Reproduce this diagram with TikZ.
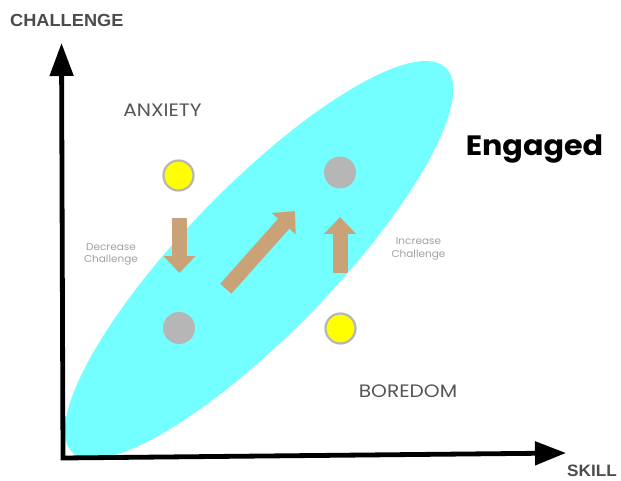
\documentclass[tikz,border=0pt]{standalone}
\usepackage{fontspec}
\newfontfamily\pop{Poppins}[FakeStretch=1.12]
\newfontfamily\popeng{Poppins}[FakeStretch=1.08]
\newfontfamily\pophint{Poppins}[FakeStretch=1.05]
\newfontfamily\lib{Liberation Sans}[FakeStretch=1.04]
\usetikzlibrary{arrows.meta,shapes.geometric}
\definecolor{cyanfill}{RGB}{115,255,255}
\definecolor{tanarrow}{RGB}{201,162,120}
\definecolor{dotgray}{RGB}{182,182,182}
\definecolor{dotyellow}{RGB}{255,255,0}
\definecolor{txtgray}{RGB}{85,85,85}
\definecolor{axlabel}{RGB}{75,75,75}
\definecolor{smallgray}{RGB}{160,160,160}
\begin{document}
\begin{tikzpicture}[x=1pt,y=-1pt,
  axis/.style={line width=4.8pt, black, {Triangle[width=23pt,length=33pt]}-{Triangle[width=23pt,length=31pt]}},
  bigarrow/.style={line width=15pt, tanarrow, -{Triangle[width=31pt,length=17pt]}},
  graydot/.style={circle, fill=dotgray, minimum size=32pt, inner sep=0pt},
  yellowdot/.style={circle, fill=dotyellow, draw=dotgray, line width=2.2pt, minimum size=30pt, inner sep=0pt},
  zone/.style={font=\pop\fontsize{18}{20}\selectfont, text=txtgray, inner sep=0pt},
  hint/.style={font=\pophint\fontsize{10}{12.5}\selectfont, text=smallgray, align=center, inner sep=0pt},
  axtext/.style={font=\lib\bfseries\fontsize{17.5}{18}\selectfont, text=axlabel, inner sep=0pt}
]
\useasboundingbox (0,0) rectangle (621,481);
% flow channel
\node[ellipse, fill=cyanfill, inner sep=0pt, minimum width=536pt, minimum height=148pt, rotate=45.8] (channel) at (259,260) {};
% axes
\coordinate (O) at (63,458);
\coordinate (ytip) at (61.5,43);
\coordinate (xtip) at (566,453);
\draw[axis] (ytip) -- (O) -- (xtip);
\node[axtext, anchor=base west] (challenge) at (10,27) {CHALLENGE};
\node[axtext, font=\lib\bfseries\fontsize{16.5}{18}\selectfont, anchor=base west] (skill) at (567,476) {SKILL};
% dots
\node[yellowdot] (y1) at (178.5,175.5) {};
\node[graydot] (g1) at (340,172.5) {};
\node[graydot] (g2) at (179,328) {};
\node[yellowdot] (y2) at (340.5,328.5) {};
% arrows
\coordinate (d1) at (179.5,218);
\coordinate (d2) at (179.5,273);
\coordinate (u1) at (340,273);
\coordinate (u2) at (340,217);
\coordinate (s1) at (225.8,288.7);
\coordinate (s2) at (295,211);
\draw[bigarrow] (d1) -- (d2);
\draw[bigarrow] (u1) -- (u2);
\draw[bigarrow] (s1) -- (s2);
% labels
\node[zone, anchor=base] (anx) at (162.5,117) {ANXIETY};
\node[zone, anchor=base] (bor) at (408,397) {BOREDOM};
\node[font=\popeng\bfseries\fontsize{28}{30}\selectfont, inner sep=0pt, anchor=base] (eng) at (534.5,156) {Engaged};
\node[hint] (dec) at (111,254.5) {Decrease\\Challenge};
\node[hint] (inc) at (418.5,249) {Increase\\Challenge};
\end{tikzpicture}
\end{document}
